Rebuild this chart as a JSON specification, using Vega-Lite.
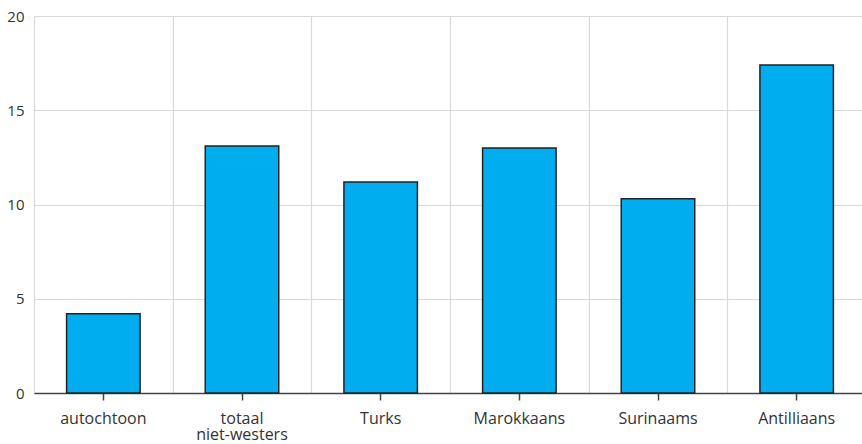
{
  "$schema": "https://vega.github.io/schema/vega-lite/v6.json",
  "autosize": "none",
  "width": 832,
  "height": 377,
  "padding": {"left": 34, "top": 16, "right": 0, "bottom": 51},
  "background": "white",
  "config": {
    "view": {"stroke": null},
    "font": "Open Sans",
    "axis": {"labelFont": "Open Sans", "labelFontSize": 15, "labelColor": "#333333"}
  },
  "data": {
    "values": [
      {"groep": "autochtoon", "waarde": 4.2},
      {"groep": "totaal niet-westers", "waarde": 13.1},
      {"groep": "Turks", "waarde": 11.2},
      {"groep": "Marokkaans", "waarde": 13.0},
      {"groep": "Surinaams", "waarde": 10.3},
      {"groep": "Antilliaans", "waarde": 17.4}
    ]
  },
  "layer": [
    {
      "mark": {"type": "bar", "opacity": 0},
      "encoding": {
        "x": {
          "field": "groep", "type": "nominal", "sort": null,
          "scale": {"paddingInner": 0, "paddingOuter": 0},
          "axis": {"orient": "top", "title": null, "labels": false, "ticks": false, "domain": false,
                   "grid": true, "tickBand": "extent", "gridColor": "#d9d9d9", "gridWidth": 1.2}
        },
        "y": {
          "field": "waarde", "type": "quantitative",
          "scale": {"domain": [0, 20]},
          "axis": {"title": null, "values": [0, 5, 10, 15, 20], "ticks": false, "domain": false,
                   "grid": true, "gridColor": "#d9d9d9", "gridWidth": 1.2, "labelPadding": 10,
                   "labelFontSize": 15}
        }
      }
    },
    {
      "mark": {"type": "bar", "fill": "#00AEEF", "stroke": "#222222", "strokeWidth": 1.5, "width": {"band": 0.53}},
      "encoding": {
        "x": {
          "field": "groep", "type": "nominal", "sort": null,
          "scale": {"paddingInner": 0, "paddingOuter": 0},
          "axis": {"orient": "bottom", "title": null, "labelAngle": 0, "grid": false,
                   "domainColor": "#444444", "domainWidth": 1.5,
                   "tickColor": "#444444", "tickWidth": 1.5, "tickSize": 7, "tickOpacity": 1,
                   "labelPadding": 10, "labelFontSize": 16, "labelLineHeight": 16,
                   "labelExpr": "datum.label == 'totaal niet-westers' ? ['totaal', 'niet-westers'] : datum.label"}
        },
        "y": {"field": "waarde", "type": "quantitative"}
      }
    }
  ],
  "resolve": {"scale": {"x": "independent"}, "axis": {"x": "independent"}}
}
